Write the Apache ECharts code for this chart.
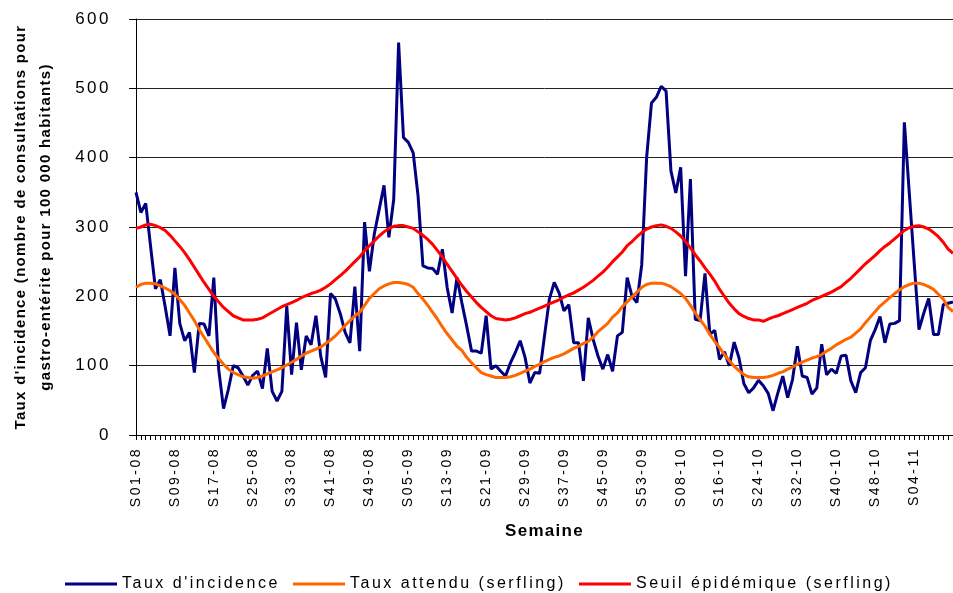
<!DOCTYPE html>
<html><head><meta charset="utf-8">
<script src="https://cdn.jsdelivr.net/npm/echarts@6/dist/echarts.min.js"></script>
<style>html,body{margin:0;padding:0;background:#fff}#main{width:953px;height:593px}</style>
</head><body><div id="main"></div>
<script>
// Week labels: S01-08 ... S12-11 (2008: 52 weeks, 2009: 53, 2010: 52, 2011: first 12)
const years = ['08', '09', '10', '11'];
const weeksInYear = [52, 53, 52, 12];
const weeks = [];
years.forEach(function (y, k) {
  for (let w = 1; w <= weeksInYear[k]; w++) weeks.push('S' + String(w).padStart(2, '0') + '-' + y);
});
// Tick labels shown on the axis (every 8th week)
const shownLabels = ['S01-08', 'S09-08', 'S17-08', 'S25-08', 'S33-08', 'S41-08', 'S49-08', 'S05-09',
  'S13-09', 'S21-09', 'S29-09', 'S37-09', 'S45-09', 'S53-09', 'S08-10', 'S16-10', 'S24-10',
  'S32-10', 'S40-10', 'S48-10', 'S04-11'];

const seriesNames = ["Taux d'incidence", 'Taux attendu (serfling)', 'Seuil épidémique (serfling)'];

const incidence = [
  350, 321, 334, 272, 211, 224, 185, 143, 241, 161,
  136, 148, 90, 161, 160, 143, 227, 95, 38, 66,
  100, 97, 85, 72, 86, 92, 67, 125, 63, 49,
  63, 186, 87, 162, 94, 143, 130, 172, 113, 83,
  204, 196, 175, 148, 133, 214, 121, 307, 236, 290,
  325, 360, 285, 340, 566, 429, 422, 407, 345, 244,
  241, 240, 232, 268, 212, 176, 227, 191, 157, 121,
  121, 118, 172, 95, 100, 92, 85, 104, 119, 136,
  112, 75, 90, 89, 143, 196, 220, 205, 179, 188,
  133, 133, 78, 169, 138, 114, 95, 116, 92, 143,
  148, 227, 200, 191, 246, 400, 479, 487, 503, 496,
  381, 349, 386, 229, 369, 167, 165, 233, 145, 151,
  109, 120, 100, 134, 111, 74, 61, 68, 79, 71,
  60, 35, 61, 85, 54, 80, 128, 85, 83, 59,
  68, 131, 87, 95, 89, 114, 115, 78, 61, 90,
  97, 136, 152, 171, 133, 160, 161, 165, 451, 350,
  250, 152, 176, 197, 145, 145, 188, 190, 192
];

const expected = [
  213, 217, 219, 219, 218, 215, 212, 208, 203, 195,
  187, 176, 165, 152, 141, 130, 119, 110, 102, 95,
  90, 87, 84, 83, 82, 83, 85, 88, 91, 94,
  97, 101, 105, 109, 114, 118, 121, 124, 127, 132,
  137, 143, 150, 158, 165, 172, 177, 187, 197, 204,
  211, 215, 218, 220, 220, 219, 217, 213, 204, 196,
  187, 177, 167, 156, 146, 137, 128, 122, 112, 104,
  97, 90, 87, 85, 83, 83, 83, 84, 86, 89,
  92, 95, 99, 102, 106, 109, 112, 114, 117, 121,
  125, 128, 132, 135, 141, 149, 155, 161, 170, 176,
  185, 192, 199, 206, 213, 217, 219, 219, 219, 217,
  214, 209, 204, 197, 187, 176, 166, 157, 145, 135,
  126, 116, 107, 99, 93, 87, 84, 83, 83, 83,
  84, 86, 89, 91, 95, 98, 102, 105, 108, 111,
  113, 116, 121, 125, 130, 134, 138, 141, 147, 153,
  162, 170, 178, 186, 192, 198, 204, 209, 214, 217,
  219, 219, 217, 214, 210, 203, 196, 184, 178
];

const threshold = [
  298, 300, 303, 304, 302, 299, 295, 288, 280, 272,
  263, 253, 242, 231, 220, 210, 200, 192, 184, 178,
  172, 169, 166, 166, 166, 167, 169, 173, 177, 181,
  185, 188, 191, 194, 198, 201, 204, 206, 209, 213,
  218, 224, 230, 236, 243, 250, 257, 266, 273, 280,
  287, 293, 298, 301, 302, 302, 300, 298, 293, 288,
  282, 275, 266, 257, 246, 236, 226, 216, 207, 199,
  191, 184, 178, 172, 168, 167, 166, 167, 169, 172,
  175, 177, 180, 183, 186, 189, 192, 195, 199, 202,
  205, 209, 213, 218, 223, 229, 235, 242, 250, 257,
  264, 273, 279, 286, 292, 297, 300, 302, 303, 301,
  298, 293, 287, 279, 270, 260, 251, 241, 232, 222,
  210, 200, 190, 182, 175, 171, 168, 166, 166, 164,
  167, 170, 172, 175, 178, 181, 184, 187, 190, 194,
  197, 200, 203, 206, 210, 214, 220, 226, 233, 240,
  247, 253, 259, 266, 272, 277, 283, 289, 295, 299,
  301, 302, 300, 297, 292, 286, 278, 268, 262
];

const yTicks = [0, 100, 200, 300, 400, 500, 600];

// Emulate the wide letter spacing of the original export
(function () {
  const proto = CanvasRenderingContext2D.prototype;
  const orig = proto.fillText;
  proto.fillText = function (t, x, y, m) {
    try { this.letterSpacing = /bold/.test(this.font) ? '1.3px' : '2.5px'; } catch (e) {}
    return m === undefined ? orig.call(this, t, x, y) : orig.call(this, t, x, y, m);
  };
})();

const FONT = 'Liberation Sans, Arial, sans-serif';
const chart = echarts.init(document.getElementById('main'), null, { renderer: 'canvas' });

const colors = ['#000080', '#FF6600', '#FF0000'];
const legendLefts = [60, 288, 574];

chart.setOption({
  animation: false,
  backgroundColor: '#ffffff',
  grid: { left: 130, right: -1.4, top: 19, bottom: 158, containLabel: false },
  legend: seriesNames.map(function (n, k) {
    return {
      data: [n], left: legendLefts[k], top: 571, icon: 'rect', itemWidth: 52, itemHeight: 3, itemGap: 0,
      textStyle: { fontFamily: FONT, fontSize: 16, color: '#000' }
    };
  }),
  xAxis: {
    type: 'category', data: weeks, boundaryGap: false,
    name: 'Semaine', nameLocation: 'middle', nameGap: 88,
    nameTextStyle: { fontFamily: FONT, fontSize: 17, fontWeight: 'bold', color: '#000', verticalAlign: 'top' },
    axisLine: { lineStyle: { color: '#000', width: 1 } },
    axisTick: { interval: 0, length: 5, lineStyle: { color: '#000' } },
    axisLabel: {
      interval: function (idx, val) { return shownLabels.indexOf(val) >= 0; },
      rotate: 90, margin: 12, padding: [11, 0, 0, 0], fontFamily: FONT, fontSize: 14, color: '#000'
    },
    splitLine: { show: false }
  },
  yAxis: {
    type: 'value', min: yTicks[0], max: yTicks[yTicks.length - 1], interval: 100,
    name: "Taux d'incidence (nombre de consultations pour\ngastro-entérite pour 100 000 habitants)",
    nameLocation: 'middle', nameGap: 78, nameRotate: 90,
    nameTextStyle: { fontFamily: FONT, fontSize: 15, fontWeight: 'bold', color: '#000', lineHeight: 25, align: 'center' },
    axisLine: { show: true, lineStyle: { color: '#000', width: 1 } },
    axisTick: { show: true, length: 7, lineStyle: { color: '#000' } },
    axisLabel: { margin: 25, fontFamily: FONT, fontSize: 17, color: '#000' },
    splitLine: { lineStyle: { color: '#222', width: 1 } }
  },
  series: [
    { name: seriesNames[0], type: 'line', data: incidence, symbol: 'none', color: colors[0], lineStyle: { width: 3, color: colors[0] } },
    { name: seriesNames[1], type: 'line', data: expected, symbol: 'none', color: colors[1], lineStyle: { width: 3, color: colors[1] } },
    { name: seriesNames[2], type: 'line', data: threshold, symbol: 'none', color: colors[2], lineStyle: { width: 3, color: colors[2] } }
  ]
});
</script></body></html>
